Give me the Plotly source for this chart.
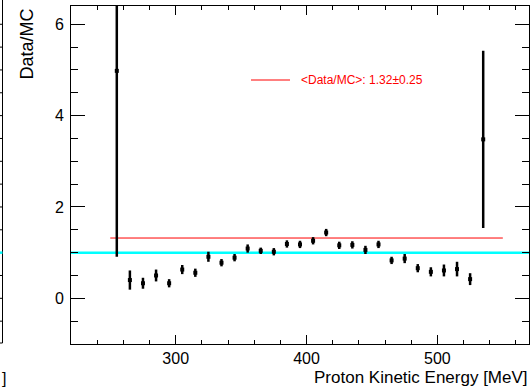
import numpy as np
import plotly.graph_objects as go

# Data/MC ratio per 10 MeV bin of proton kinetic energy
energy = [255, 265, 275, 285, 295, 305, 315, 325, 335, 345,
          355, 365, 375, 385, 395, 405, 415, 425, 435, 445,
          455, 465, 475, 485, 495, 505, 515, 525, 535]
ratio = [4.98, 0.40, 0.33, 0.50, 0.33, 0.63, 0.56, 0.91, 0.78, 0.89,
         1.09, 1.04, 1.02, 1.19, 1.18, 1.26, 1.44, 1.16, 1.17, 1.06,
         1.18, 0.83, 0.87, 0.66, 0.58, 0.61, 0.64, 0.42, 3.48]
ratio_err = [4.07, 0.21, 0.12, 0.13, 0.09, 0.10, 0.09, 0.11, 0.08, 0.08,
             0.09, 0.07, 0.08, 0.08, 0.08, 0.08, 0.08, 0.08, 0.08, 0.09,
             0.08, 0.08, 0.10, 0.09, 0.10, 0.13, 0.16, 0.13, 1.94]

# constant fit of the ratio
mean_ratio = 1.32
mean_ratio_err = 0.25
fit_range = [250, 550]
unity = 1.0

x_range = [220, 570]
y_range = [-1, 6.4]
x_title = "Proton Kinetic Energy [MeV]"
y_title = "Data/MC"
fit_label = "&lt;Data/MC&gt;: %.2f\u00b1%.2f" % (mean_ratio, mean_ratio_err)

W, H = 531, 391
ML, MR, MT, MB = 71, 2, 6, 47
FONT = "Liberation Sans, Arial, Helvetica, sans-serif"


def xp(px):
    return (px - ML) / (W - ML - MR)


def yp(py):
    return (H - MB - py) / (H - MT - MB)


fig = go.Figure()

# reference line at Data/MC = 1
fig.add_trace(go.Scatter(x=x_range, y=[unity, unity], mode="lines",
                         line=dict(color="#00FFFF", width=2.5),
                         showlegend=False, hoverinfo="skip"))
# fitted mean ratio
fig.add_trace(go.Scatter(x=fit_range, y=[mean_ratio, mean_ratio], mode="lines",
                         line=dict(color="#FF0000", width=1),
                         showlegend=False, hoverinfo="skip"))
# ratio points with statistical errors
fig.add_trace(go.Scatter(x=energy, y=ratio, mode="markers",
                         marker=dict(symbol="square", size=4, color="black"),
                         error_y=dict(type="data", array=ratio_err, color="black",
                                      thickness=2.5, width=0),
                         showlegend=False))

axis_common = dict(showline=True, linecolor="black", linewidth=1, mirror="allticks",
                   ticks="inside", tickcolor="black", showgrid=False, zeroline=False,
                   tickfont=dict(family=FONT, size=16, color="black"))

fig.update_xaxes(range=x_range, dtick=100, tick0=0, ticklen=9,
                 minor=dict(dtick=20, ticks="inside", ticklen=4, tickcolor="black", showgrid=False),
                 **axis_common)
fig.update_yaxes(range=y_range, dtick=2, tick0=0, ticklen=14, ticklabelstandoff=3,
                 minor=dict(dtick=0.5, ticks="inside", ticklen=7, tickcolor="black", showgrid=False),
                 **axis_common)

shapes = []
# legend entry for the fit
shapes.append(dict(type="line", xref="paper", yref="paper",
                   x0=xp(251), x1=xp(290), y0=yp(80), y1=yp(80),
                   line=dict(color="#FF0000", width=1)))
# edge of the neighbouring pad
shapes.append(dict(type="line", xref="paper", yref="paper",
                   x0=xp(2.5), x1=xp(2.5), y0=yp(343), y1=yp(0),
                   line=dict(color="black", width=1)))
shapes.append(dict(type="line", xref="paper", yref="paper",
                   x0=xp(-2), x1=xp(2.5), y0=yp(343), y1=yp(343),
                   line=dict(color="black", width=1)))
for v in np.arange(-0.5, 6.01, 0.5):
    shapes.append(dict(type="line", xref="paper", yref="y",
                       x0=xp(-1), x1=xp(2.5), y0=v, y1=v,
                       line=dict(color="black", width=1)))
shapes.append(dict(type="line", xref="paper", yref="y",
                   x0=xp(-1), x1=xp(2.5), y0=unity, y1=unity,
                   line=dict(color="#00FFFF", width=2.5)))

annotations = [
    dict(text=fit_label, xref="paper", yref="paper", x=xp(299), y=yp(80),
         xanchor="left", yanchor="middle", showarrow=False,
         font=dict(family=FONT, size=12, color="#FF0000")),
    dict(text=y_title, xref="paper", yref="paper", x=xp(26), y=yp(7),
         xanchor="center", yanchor="top", textangle=-90, showarrow=False,
         font=dict(family=FONT, size=18, color="black")),
    dict(text=x_title, xref="paper", yref="paper", x=xp(530), y=yp(377),
         xanchor="right", yanchor="middle", showarrow=False,
         font=dict(family=FONT, size=17, color="black")),
    dict(text="]", xref="paper", yref="paper", x=xp(0), y=yp(378),
         xanchor="left", yanchor="middle", showarrow=False,
         font=dict(family=FONT, size=16, color="black")),
]

fig.update_layout(width=W, height=H, margin=dict(l=ML, r=MR, t=MT, b=MB),
                  paper_bgcolor="white", plot_bgcolor="white",
                  shapes=shapes, annotations=annotations, showlegend=False)

fig.write_html("out.html")
